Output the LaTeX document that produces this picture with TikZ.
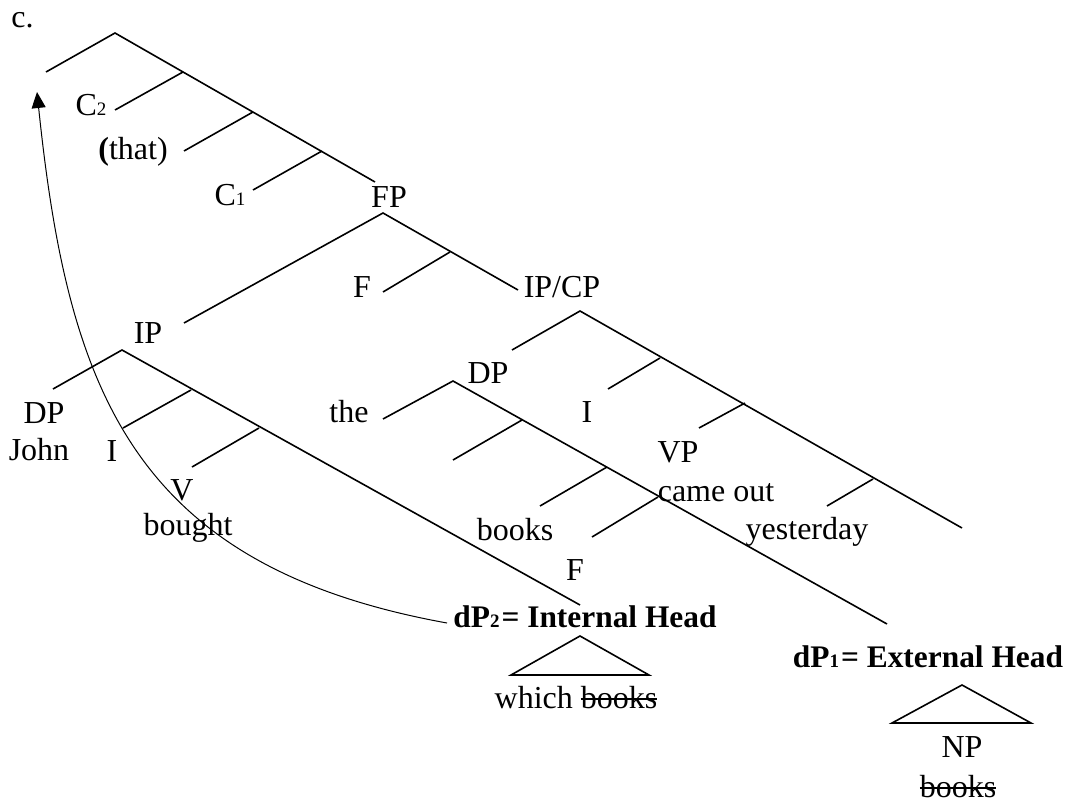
\documentclass[tikz,border=0pt]{standalone}
\usepackage{fontspec}
\setmainfont{Liberation Serif}
\usetikzlibrary{arrows.meta}
\newcommand{\sbs}[1]{{\fontsize{9.5}{10}\selectfont #1}}
\newsavebox{\mystrkbox}
\newcommand{\strk}[1]{\sbox{\mystrkbox}{#1}\rlap{\rule[0.25em]{\wd\mystrkbox}{0.055em}}\usebox{\mystrkbox}}
\begin{document}
\begin{tikzpicture}[x=0.5pt,y=-0.5pt,
  lab/.style={anchor=base,inner sep=0pt,font=\fontsize{16}{18}\selectfont},
  blab/.style={anchor=base,inner sep=0pt,font=\fontsize{15.7}{18}\selectfont\bfseries},
  br/.style={line width=0.8pt},
  mv/.style={line width=0.5pt,-{Triangle[length=8pt,width=7pt]}}]
\useasboundingbox (0,0) rectangle (1065,803);

% ---------- labels ----------
\node[lab,anchor=base west] (c) at (11,27) {c.};
\node[lab] (c2) at (91,115) {C\sbs{2}};
\node[lab] (that) at (133,159) {\textbf{(}that)};
\node[lab] (c1) at (230,205) {C\sbs{1}};
\node[lab] (fp) at (389,207) {FP};
\node[lab] (f1) at (362,297) {F};
\node[lab] (ipcp) at (562,297) {IP/CP};
\node[lab] (ip) at (148,343) {IP};
\node[lab] (dpr) at (488,383) {DP};
\node[lab] (dpl) at (44,423) {DP};
\node[lab] (the) at (349,422) {the};
\node[lab] (ir) at (587,422) {I};
\node[lab] (john) at (39,460) {John};
\node[lab] (il) at (112,461) {I};
\node[lab] (vp) at (678,462) {VP};
\node[lab] (v) at (182,500) {V};
\node[lab] (came) at (716,501) {came out};
\node[lab] (bought) at (188,535) {bought};
\node[lab] (books1) at (515,540) {books};
\node[lab] (yest) at (807,539) {yesterday};
\node[lab] (f2) at (575,580) {F};
\node[blab] (dp2) at (585,627) {dP\sbs{2}\hspace{1pt}= Internal Head};
\node[lab] (which) at (576,708) {which \strk{books}};
\node[blab] (dp1) at (928,667) {dP\sbs{1}\hspace{1pt}= External Head};
\node[lab] (np) at (962,757) {NP};
\node[lab] (books2) at (958,797) {\strk{books}};

% ---------- coordinates ----------
\coordinate (t0) at (115,33);
\coordinate (t0l) at (46,72);
\coordinate (s1) at (183,72);   \coordinate (s1l) at (115,110);
\coordinate (s2) at (253,112);  \coordinate (s2l) at (184,151);
\coordinate (s3) at (322,151);  \coordinate (s3l) at (253,190);
\coordinate (s4) at (375,182);
\coordinate (fpa) at (383,213);
\coordinate (fpl) at (184,323);
\coordinate (f1n) at (450,252); \coordinate (f1l) at (383,292);
\coordinate (f1e) at (518,290);
\coordinate (ica) at (580,311);
\coordinate (icl) at (512,350);
\coordinate (r1) at (660,358);  \coordinate (r1l) at (608,389);
\coordinate (r2) at (745,403);  \coordinate (r2l) at (699,428);
\coordinate (r3) at (873,479);  \coordinate (r3l) at (827,506);
\coordinate (r4) at (962,528);
\coordinate (da) at (453,381);
\coordinate (dal) at (383,419);
\coordinate (d1) at (522,420);  \coordinate (d1l) at (453,460);
\coordinate (d2) at (607,467);  \coordinate (d2l) at (540,506);
\coordinate (d3) at (658,497);  \coordinate (d3l) at (592,537);
\coordinate (d4) at (887,624);
\coordinate (ia) at (122,350);
\coordinate (ial) at (53,389);
\coordinate (i1) at (191,390);  \coordinate (i1l) at (123,428);
\coordinate (i2) at (259,428);  \coordinate (i2l) at (192,467);
\coordinate (i3) at (580,605);
\coordinate (ta2) at (580,636); \coordinate (tl2) at (511,675); \coordinate (tr2) at (649,675);
\coordinate (ta1) at (962,685); \coordinate (tl1) at (892,723); \coordinate (tr1) at (1031,723);
\coordinate (as) at (447,623);
\coordinate (ae) at (37,92);

% ---------- branches ----------
\draw[br] (t0l) -- (t0) -- (s4);
\draw[br] (s1) -- (s1l);
\draw[br] (s2) -- (s2l);
\draw[br] (s3) -- (s3l);
\draw[br] (fpl) -- (fpa) -- (f1e);
\draw[br] (f1n) -- (f1l);
\draw[br] (icl) -- (ica) -- (r4);
\draw[br] (r1) -- (r1l);
\draw[br] (r2) -- (r2l);
\draw[br] (r3) -- (r3l);
\draw[br] (dal) -- (da) -- (d4);
\draw[br] (d1) -- (d1l);
\draw[br] (d2) -- (d2l);
\draw[br] (d3) -- (d3l);
\draw[br] (ial) -- (ia) -- (i3);
\draw[br] (i1) -- (i1l);
\draw[br] (i2) -- (i2l);
\draw[br] (ta2) -- (tl2) -- (tr2) -- cycle;
\draw[br] (ta1) -- (tl1) -- (tr1) -- cycle;

% ---------- movement arrow ----------
\draw[mv] (as) .. controls (132,566) and (68,390) .. (ae);
\end{tikzpicture}
\end{document}
